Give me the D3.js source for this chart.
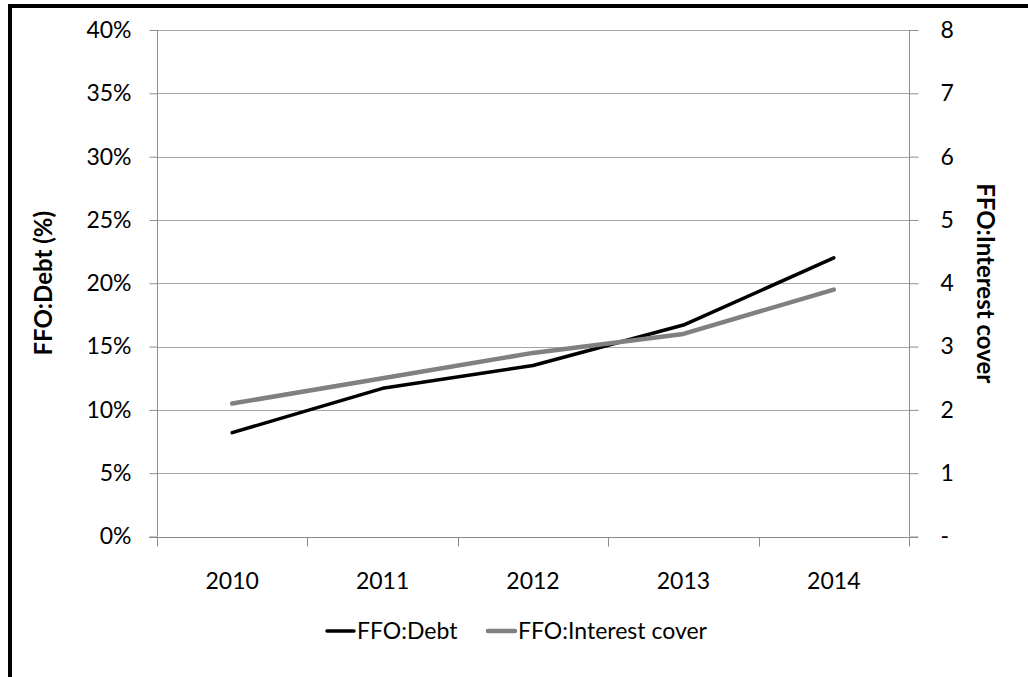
<!DOCTYPE html>
<html>
<head>
<meta charset="utf-8">
<script src="https://cdn.jsdelivr.net/npm/d3@7"></script>
<style>
  html, body { margin: 0; padding: 0; background: #fff; }
  svg { display: block; }
  text { font-family: Lato, "Open Sans", sans-serif; fill: #000; }
</style>
</head>
<body>
<svg id="chart" width="1028" height="677"></svg>
<script>
// Years on the category axis
const years = ["2010", "2011", "2012", "2013", "2014"];
// FFO to debt ratio, percent (left axis)
const ffoDebt = [8.2, 11.7, 13.5, 16.7, 22.0];
// FFO interest cover, times (right axis)
const ffoInterest = [2.1, 2.5, 2.9, 3.2, 3.9];
// Tick values for both value axes
const leftTicks = [0, 5, 10, 15, 20, 25, 30, 35, 40];
const rightTicks = [0, 1, 2, 3, 4, 5, 6, 7, 8];

const svg = d3.select("#chart");
const plot = { left: 157, right: 909, top: 30, bottom: 536.5 };

// Outer frame (only top and left edges fall inside the canvas)
svg.append("rect")
  .attr("x", 10).attr("y", 6)
  .attr("width", 1040).attr("height", 700)
  .attr("fill", "none").attr("stroke", "#000").attr("stroke-width", 4);

const x = d3.scaleBand().domain(years).range([plot.left, plot.right]).padding(0);
const yL = d3.scaleLinear().domain([0, 40]).range([plot.bottom, plot.top]);
const yR = d3.scaleLinear().domain([0, 8]).range([plot.bottom, plot.top]);

const gridColor = "#a6a6a6";
const axisColor = "#8c8c8c";

// Horizontal gridlines
svg.append("g").selectAll("line").data(leftTicks.filter(d => d > 0)).join("line")
  .attr("x1", plot.left).attr("x2", plot.right)
  .attr("y1", d => Math.round(yL(d)) + 0.5).attr("y2", d => Math.round(yL(d)) + 0.5)
  .attr("stroke", gridColor).attr("stroke-width", 1);

// Left axis
const gLeft = svg.append("g").attr("transform", `translate(${plot.left + 0.5},0)`)
  .call(d3.axisLeft(yL).tickValues(leftTicks).tickFormat(d => d + "%").tickSize(8).tickPadding(18));
gLeft.select(".domain").remove();
gLeft.append("line").attr("y1", plot.top).attr("y2", plot.bottom).attr("stroke", axisColor);

// Right axis
const gRight = svg.append("g").attr("transform", `translate(${plot.right + 0.5},0)`)
  .call(d3.axisRight(yR).tickValues(rightTicks).tickFormat(d => d === 0 ? "-" : d).tickSize(9).tickPadding(22));
gRight.select(".domain").remove();
gRight.append("line").attr("y1", plot.top).attr("y2", plot.bottom).attr("stroke", axisColor);

// Category axis with ticks between categories
const gBottom = svg.append("g").attr("transform", `translate(0,${Math.round(plot.bottom) + 0.5})`);
gBottom.append("line").attr("x1", plot.left - 8).attr("x2", plot.right + 9).attr("stroke", axisColor);
const bounds = years.map(d => x(d)).concat([plot.right]);
gBottom.selectAll("line.tk").data(bounds).join("line").attr("class", "tk")
  .attr("x1", d => Math.round(d) + 0.5).attr("x2", d => Math.round(d) + 0.5)
  .attr("y1", 0).attr("y2", 9).attr("stroke", axisColor);
gBottom.selectAll("text").data(years).join("text")
  .attr("x", d => x(d) + x.bandwidth() / 2).attr("y", 51)
  .attr("text-anchor", "middle").style("font-size", "23px").text(d => d);

[gLeft, gRight].forEach(g => {
  g.selectAll(".tick line").attr("stroke", axisColor);
  g.selectAll(".tick text").style("font-size", "23px").attr("fill", "#000");
});

// Series lines
const cx = d => x(d) + x.bandwidth() / 2;
const lineL = d3.line().x((d, i) => cx(years[i])).y(d => yL(d));
const lineR = d3.line().x((d, i) => cx(years[i])).y(d => yR(d));
svg.append("path").datum(ffoDebt).attr("d", lineL)
  .attr("fill", "none").attr("stroke", "#000").attr("stroke-width", 3.5)
  .attr("stroke-linecap", "round").attr("stroke-linejoin", "round");
svg.append("path").datum(ffoInterest).attr("d", lineR)
  .attr("fill", "none").attr("stroke", "#808080").attr("stroke-width", 4.5)
  .attr("stroke-linecap", "round").attr("stroke-linejoin", "round");

// Axis titles
const midY = (plot.top + plot.bottom) / 2;
svg.append("text").attr("transform", `translate(52,${midY}) rotate(-90)`)
  .attr("text-anchor", "middle").style("font-size", "24px").style("font-weight", "bold")
  .text("FFO:Debt (%)");
svg.append("text").attr("transform", `translate(977,${midY}) rotate(90)`)
  .attr("text-anchor", "middle").style("font-size", "24px").style("font-weight", "bold")
  .text("FFO:Interest cover");

// Legend
const legend = svg.append("g");
const items = [
  { label: "FFO:Debt", color: "#000", w: 3.5, x: 327 },
  { label: "FFO:Interest cover", color: "#808080", w: 4.5, x: 488 }
];
items.forEach(it => {
  legend.append("line").attr("x1", it.x).attr("x2", it.x + 27).attr("y1", 631).attr("y2", 631)
    .attr("stroke", it.color).attr("stroke-width", it.w).attr("stroke-linecap", "round");
  legend.append("text").attr("x", it.x + 30).attr("y", 631).attr("dy", "0.35em")
    .style("font-size", "23px").text(it.label);
});
</script>
</body>
</html>
